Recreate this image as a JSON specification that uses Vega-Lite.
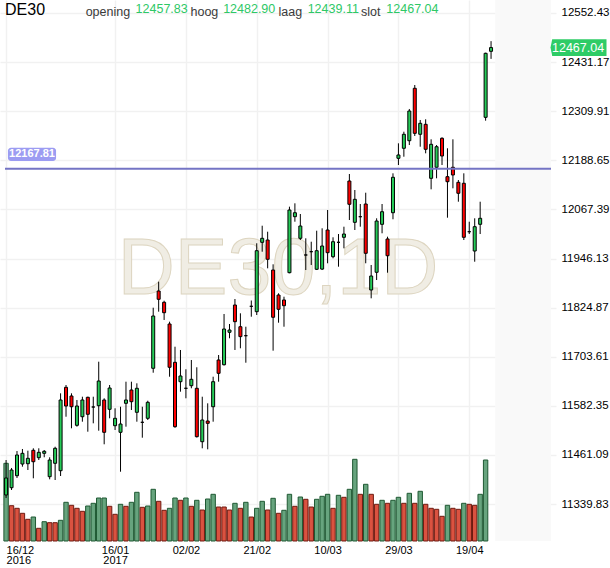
{
  "$schema": "https://vega.github.io/schema/vega-lite/v6.json",
  "width": 556,
  "height": 541,
  "autosize": "none",
  "padding": {"left": 0, "top": 0, "right": 54, "bottom": 27},
  "background": "#ffffff",
  "config": {"view": {"stroke": null}, "font": "Liberation Sans"},
  "data": {"values": [
    {"n":0,"d":"2016-12-16","o":11362.1,"h":11448.5,"l":11354.7,"c":11404.1,"v":7770,"vc":"up"},
    {"n":1,"d":"2016-12-19","o":11380.1,"h":11428.8,"l":11374.5,"c":11423.8,"v":3530,"vc":"down"},
    {"n":2,"d":"2016-12-20","o":11409.7,"h":11470.7,"l":11404.1,"c":11460.9,"v":3270,"vc":"down"},
    {"n":3,"d":"2016-12-21","o":11438.6,"h":11475.7,"l":11432.0,"c":11465.0,"v":2770,"vc":"down"},
    {"n":4,"d":"2016-12-22","o":11439.4,"h":11471.5,"l":11423.8,"c":11452.7,"v":2170,"vc":"down"},
    {"n":5,"d":"2016-12-23","o":11472.5,"h":11477.4,"l":11403.3,"c":11444.3,"v":2400,"vc":"up"},
    {"n":6,"d":"2016-12-27","o":11454.2,"h":11477.4,"l":11448.5,"c":11467.5,"v":1270,"vc":"down"},
    {"n":7,"d":"2016-12-28","o":11465.0,"h":11473.2,"l":11455.2,"c":11470.0,"v":1930,"vc":"up"},
    {"n":8,"d":"2016-12-29","o":11407.3,"h":11455.2,"l":11400.8,"c":11448.5,"v":1830,"vc":"down"},
    {"n":9,"d":"2016-12-30","o":11440.4,"h":11481.3,"l":11399.1,"c":11477.4,"v":1830,"vc":"down"},
    {"n":10,"d":"2017-01-02","o":11422.1,"h":11613.2,"l":11409.0,"c":11596.7,"v":2070,"vc":"up"},
    {"n":11,"d":"2017-01-03","o":11628.0,"h":11633.7,"l":11555.4,"c":11581.8,"v":3870,"vc":"up"},
    {"n":12,"d":"2017-01-04","o":11606.6,"h":11613.2,"l":11526.8,"c":11580.1,"v":3570,"vc":"down"},
    {"n":13,"d":"2017-01-05","o":11534.2,"h":11596.7,"l":11530.8,"c":11581.8,"v":3270,"vc":"down"},
    {"n":14,"d":"2017-01-06","o":11555.4,"h":11604.8,"l":11543.1,"c":11596.7,"v":2970,"vc":"down"},
    {"n":15,"d":"2017-01-09","o":11603.4,"h":11604.8,"l":11518.4,"c":11561.4,"v":3500,"vc":"up"},
    {"n":16,"d":"2017-01-10","o":11579.4,"h":11604.8,"l":11539.1,"c":11579.4,"v":3770,"vc":"up"},
    {"n":17,"d":"2017-01-11","o":11582.6,"h":11691.3,"l":11520.9,"c":11643.6,"v":4300,"vc":"up"},
    {"n":18,"d":"2017-01-12","o":11596.7,"h":11600.9,"l":11487.3,"c":11516.9,"v":4300,"vc":"up"},
    {"n":19,"d":"2017-01-13","o":11573.7,"h":11633.7,"l":11551.5,"c":11626.3,"v":3470,"vc":"down"},
    {"n":20,"d":"2017-01-16","o":11533.2,"h":11576.2,"l":11522.6,"c":11551.5,"v":2670,"vc":"down"},
    {"n":21,"d":"2017-01-17","o":11516.9,"h":11580.1,"l":11419.6,"c":11537.4,"v":3670,"vc":"up"},
    {"n":22,"d":"2017-01-18","o":11588.5,"h":11641.9,"l":11530.8,"c":11596.7,"v":3470,"vc":"down"},
    {"n":23,"d":"2017-01-19","o":11621.4,"h":11641.9,"l":11572.0,"c":11592.5,"v":3870,"vc":"up"},
    {"n":24,"d":"2017-01-20","o":11566.3,"h":11637.9,"l":11543.1,"c":11625.6,"v":4870,"vc":"up"},
    {"n":25,"d":"2017-01-23","o":11541.6,"h":11580.1,"l":11503.6,"c":11541.6,"v":3370,"vc":"down"},
    {"n":26,"d":"2017-01-24","o":11551.5,"h":11594.9,"l":11547.3,"c":11591.0,"v":3500,"vc":"up"},
    {"n":27,"d":"2017-01-25","o":11675.0,"h":11824.6,"l":11664.1,"c":11804.1,"v":5170,"vc":"up"},
    {"n":28,"d":"2017-01-26","o":11865.9,"h":11888.9,"l":11814.8,"c":11845.4,"v":3970,"vc":"down"},
    {"n":29,"d":"2017-01-27","o":11838.0,"h":11841.9,"l":11794.3,"c":11812.3,"v":3070,"vc":"down"},
    {"n":30,"d":"2017-01-30","o":11784.4,"h":11790.1,"l":11654.2,"c":11677.5,"v":3270,"vc":"up"},
    {"n":31,"d":"2017-01-31","o":11689.8,"h":11728.3,"l":11528.0,"c":11530.8,"v":4300,"vc":"up"},
    {"n":32,"d":"2017-02-01","o":11641.9,"h":11720.2,"l":11617.2,"c":11656.0,"v":4070,"vc":"down"},
    {"n":33,"d":"2017-02-02","o":11625.6,"h":11672.5,"l":11600.9,"c":11625.6,"v":4300,"vc":"up"},
    {"n":34,"d":"2017-02-03","o":11632.0,"h":11695.5,"l":11625.6,"c":11647.8,"v":3470,"vc":"down"},
    {"n":35,"d":"2017-02-06","o":11625.6,"h":11677.5,"l":11504.0,"c":11506.1,"v":4070,"vc":"up"},
    {"n":36,"d":"2017-02-07","o":11493.7,"h":11604.8,"l":11477.4,"c":11547.3,"v":3100,"vc":"down"},
    {"n":37,"d":"2017-02-08","o":11544.8,"h":11588.5,"l":11474.9,"c":11539.1,"v":4200,"vc":"up"},
    {"n":38,"d":"2017-02-09","o":11580.1,"h":11654.2,"l":11543.1,"c":11641.9,"v":4670,"vc":"up"},
    {"n":39,"d":"2017-02-10","o":11695.5,"h":11707.8,"l":11641.9,"c":11662.6,"v":3400,"vc":"down"},
    {"n":40,"d":"2017-02-13","o":11683.8,"h":11809.1,"l":11681.9,"c":11772.0,"v":3400,"vc":"down"},
    {"n":41,"d":"2017-02-14","o":11763.9,"h":11784.4,"l":11749.1,"c":11769.5,"v":3100,"vc":"down"},
    {"n":42,"d":"2017-02-15","o":11831.3,"h":11846.1,"l":11720.2,"c":11790.1,"v":3770,"vc":"up"},
    {"n":43,"d":"2017-02-16","o":11777.7,"h":11810.8,"l":11724.4,"c":11753.2,"v":3270,"vc":"down"},
    {"n":44,"d":"2017-02-17","o":11755.5,"h":11777.7,"l":11688.8,"c":11755.5,"v":3870,"vc":"up"},
    {"n":45,"d":"2017-02-20","o":11828.1,"h":11842.4,"l":11802.4,"c":11828.1,"v":2400,"vc":"down"},
    {"n":46,"d":"2017-02-21","o":11814.8,"h":11983.7,"l":11806.6,"c":11965.4,"v":3270,"vc":"up"},
    {"n":47,"d":"2017-02-22","o":11986.1,"h":12027.1,"l":11962.9,"c":11996.0,"v":3970,"vc":"up"},
    {"n":48,"d":"2017-02-23","o":11991.8,"h":12012.3,"l":11921.9,"c":11944.2,"v":3100,"vc":"down"},
    {"n":49,"d":"2017-02-24","o":11917.7,"h":11931.8,"l":11718.5,"c":11801.0,"v":4270,"vc":"up"},
    {"n":50,"d":"2017-02-27","o":11856.0,"h":11860.2,"l":11787.6,"c":11820.7,"v":2770,"vc":"down"},
    {"n":51,"d":"2017-02-28","o":11843.7,"h":11851.8,"l":11777.7,"c":11829.6,"v":3070,"vc":"up"},
    {"n":52,"d":"2017-03-01","o":11911.1,"h":12074.1,"l":11909.6,"c":12065.9,"v":4670,"vc":"up"},
    {"n":53,"d":"2017-03-02","o":12049.4,"h":12082.4,"l":12037.0,"c":12059.2,"v":3470,"vc":"down"},
    {"n":54,"d":"2017-03-03","o":11996.0,"h":12056.0,"l":11991.8,"c":12026.4,"v":4400,"vc":"up"},
    {"n":55,"d":"2017-03-06","o":11954.8,"h":11996.0,"l":11917.7,"c":11954.8,"v":4170,"vc":"down"},
    {"n":56,"d":"2017-03-07","o":11963.0,"h":11987.6,"l":11930.1,"c":11963.0,"v":3400,"vc":"down"},
    {"n":57,"d":"2017-03-08","o":11919.5,"h":12014.8,"l":11917.7,"c":11965.4,"v":4170,"vc":"up"},
    {"n":58,"d":"2017-03-09","o":11920.0,"h":12020.7,"l":11917.7,"c":11977.0,"v":4470,"vc":"up"},
    {"n":59,"d":"2017-03-10","o":12016.5,"h":12065.9,"l":11934.3,"c":11960.5,"v":4670,"vc":"up"},
    {"n":60,"d":"2017-03-13","o":11950.6,"h":11998.5,"l":11946.6,"c":11987.6,"v":3270,"vc":"down"},
    {"n":61,"d":"2017-03-14","o":11986.1,"h":12006.6,"l":11925.9,"c":11986.1,"v":4570,"vc":"up"},
    {"n":62,"d":"2017-03-15","o":11998.5,"h":12024.7,"l":11971.3,"c":12006.6,"v":4370,"vc":"down"},
    {"n":63,"d":"2017-03-16","o":12137.5,"h":12154.8,"l":12041.2,"c":12080.0,"v":5170,"vc":"up"},
    {"n":64,"d":"2017-03-17","o":12035.5,"h":12115.3,"l":12016.5,"c":12092.3,"v":8170,"vc":"up"},
    {"n":65,"d":"2017-03-20","o":12049.4,"h":12080.7,"l":12024.7,"c":12049.4,"v":4670,"vc":"down"},
    {"n":66,"d":"2017-03-21","o":12080.7,"h":12108.6,"l":11934.3,"c":11959.0,"v":5670,"vc":"up"},
    {"n":67,"d":"2017-03-22","o":11868.4,"h":11930.1,"l":11847.8,"c":11902.9,"v":4670,"vc":"down"},
    {"n":68,"d":"2017-03-23","o":11912.1,"h":12045.4,"l":11893.0,"c":12038.7,"v":3670,"vc":"down"},
    {"n":69,"d":"2017-03-24","o":12030.6,"h":12080.7,"l":12008.4,"c":12061.7,"v":4070,"vc":"up"},
    {"n":70,"d":"2017-03-27","o":11994.3,"h":12000.0,"l":11911.1,"c":11953.0,"v":3770,"vc":"down"},
    {"n":71,"d":"2017-03-28","o":12059.2,"h":12156.5,"l":12043.0,"c":12146.7,"v":4070,"vc":"up"},
    {"n":72,"d":"2017-03-29","o":12193.6,"h":12230.6,"l":12177.0,"c":12201.8,"v":4370,"vc":"up"},
    {"n":73,"d":"2017-03-30","o":12218.3,"h":12259.3,"l":12197.5,"c":12252.9,"v":3770,"vc":"down"},
    {"n":74,"d":"2017-03-31","o":12237.0,"h":12315.4,"l":12226.4,"c":12310.4,"v":4770,"vc":"up"},
    {"n":75,"d":"2017-04-03","o":12366.5,"h":12374.6,"l":12248.7,"c":12255.3,"v":3770,"vc":"down"},
    {"n":76,"d":"2017-04-04","o":12252.9,"h":12288.2,"l":12222.2,"c":12280.0,"v":4970,"vc":"up"},
    {"n":77,"d":"2017-04-05","o":12277.5,"h":12289.9,"l":12205.9,"c":12215.8,"v":3670,"vc":"down"},
    {"n":78,"d":"2017-04-06","o":12144.2,"h":12240.5,"l":12117.0,"c":12228.2,"v":3270,"vc":"down"},
    {"n":79,"d":"2017-04-07","o":12171.4,"h":12226.4,"l":12144.2,"c":12222.2,"v":3170,"vc":"down"},
    {"n":80,"d":"2017-04-10","o":12243.0,"h":12245.5,"l":12177.0,"c":12199.3,"v":2470,"vc":"down"},
    {"n":81,"d":"2017-04-11","o":12148.2,"h":12218.3,"l":12046.9,"c":12135.8,"v":3570,"vc":"up"},
    {"n":82,"d":"2017-04-12","o":12171.4,"h":12240.5,"l":12119.5,"c":12152.4,"v":3270,"vc":"down"},
    {"n":83,"d":"2017-04-13","o":12134.3,"h":12140.0,"l":12086.4,"c":12107.2,"v":3170,"vc":"down"},
    {"n":84,"d":"2017-04-18","o":12131.9,"h":12156.5,"l":11991.8,"c":11998.5,"v":3770,"vc":"up"},
    {"n":85,"d":"2017-04-19","o":12012.3,"h":12037.0,"l":12006.6,"c":12012.3,"v":3670,"vc":"down"},
    {"n":86,"d":"2017-04-20","o":11964.6,"h":12045.4,"l":11938.2,"c":12024.7,"v":3570,"vc":"down"},
    {"n":87,"d":"2017-04-21","o":12030.6,"h":12086.4,"l":12006.6,"c":12045.4,"v":4670,"vc":"up"},
    {"n":88,"d":"2017-04-24","o":12294.8,"h":12454.4,"l":12286.5,"c":12452.9,"v":8100,"vc":"up"},
    {"n":89,"d":"2017-04-25","o":12457.83,"h":12482.90,"l":12439.11,"c":12467.04,"v":null,"vc":"up"}
  ]},
  "encoding": {
    "x": {
      "field": "n",
      "type": "quantitative",
      "title": null,
      "scale": {"domain": [-0.2, 100], "nice": false, "zero": false},
      "axis": {
        "values": [0, 20, 33, 46, 59, 72, 85],
        "labelExpr": "datum.value == 0 ? ['16/12', '2016'] : datum.value == 20 ? ['16/01', '2017'] : datum.value == 33 ? '02/02' : datum.value == 46 ? '21/02' : datum.value == 59 ? '10/03' : datum.value == 72 ? '29/03' : '19/04'",
        "labelAlign": {"condition": {"test": "datum.value == 0", "value": "left"}, "value": "center"},
        "labelFlush": false,
        "ticks": false,
        "domain": false,
        "grid": true,
        "gridColor": "#f1f1f1",
        "gridWidth": 1.5,
        "labelOverlap": false,
        "labelBound": false,
        "labelFontSize": 11,
        "labelColor": "#000000",
        "labelPadding": 3,
        "labelLineHeight": 10.5,
        "labelBaseline": "top"
      }
    }
  },
  "layer": [
    {
      "mark": {"type": "bar", "size": 4.4, "strokeWidth": 1},
      "encoding": {
        "y": {"field": "v", "type": "quantitative", "title": null, "scale": {"domain": [0, 54100], "nice": false}, "axis": null},
        "fill": {"field": "vc", "type": "nominal", "scale": {"domain": ["up", "down"], "range": ["#67a47e", "#da5240"]}, "legend": null},
        "stroke": {"field": "vc", "type": "nominal", "scale": {"domain": ["up", "down"], "range": ["#1f5933", "#6e1a10"]}, "legend": null}
      }
    },
    {
      "layer": [
        {
          "transform": [{"filter": "datum.n == 89"}],
          "mark": {"type": "rect", "fill": "#f9f9f9"},
          "encoding": {"x": {"datum": 89.75}, "x2": {"datum": 100}}
        },
        {
          "transform": [{"filter": "datum.n == 89"}],
          "mark": {"type": "text", "text": "DE30,1D", "font": "Liberation Sans", "fontSize": 79, "align": "center", "baseline": "alphabetic", "fill": "#f0ede4", "stroke": "#ddd5c0", "strokeWidth": 1},
          "encoding": {"x": {"datum": 49.9}, "y": {"datum": 11858.5}}
        },
        {
          "mark": {"type": "rule", "color": "#000000", "strokeWidth": 1},
          "encoding": {
            "y": {
              "field": "l",
              "type": "quantitative",
              "title": null,
              "scale": {"domain": [11248.48, 12584.53], "nice": false, "zero": false},
              "axis": {
                "orient": "right",
                "values": [11339.83, 11461.09, 11582.35, 11703.61, 11824.87, 11946.13, 12067.39, 12188.65, 12309.91, 12431.17, 12552.43],
                "format": ".2f",
                "ticks": false,
                "domain": false,
                "grid": true,
                "gridColor": "#f1f1f1",
                "gridWidth": 1.5,
                "labelFontSize": 11.5,
                "labelColor": "#000000",
                "labelPadding": 5,
                "labelOverlap": false
              }
            },
            "y2": {"field": "h"}
          }
        },
        {
          "mark": {"type": "bar", "size": 3, "stroke": "#000000", "strokeWidth": 1},
          "encoding": {
            "y": {"field": "o", "type": "quantitative", "title": null},
            "y2": {"field": "c"},
            "fill": {"condition": {"test": "datum.c >= datum.o", "value": "#25cc58"}, "value": "#ff0000"}
          }
        },
        {
          "transform": [{"filter": "datum.n == 89"}],
          "mark": {"type": "rule", "color": "#7474c4", "strokeWidth": 2},
          "encoding": {"x": {"datum": -0.2}, "x2": {"datum": 100}, "y": {"datum": 12167.81}}
        },
        {
          "transform": [{"filter": "datum.n == 89"}],
          "mark": {"type": "rect", "fill": "#9c9cf2", "cornerRadius": 3},
          "encoding": {"x": {"datum": 0.34}, "x2": {"datum": 9.17}, "y": {"datum": 12219.8}, "y2": {"datum": 12186.9}}
        },
        {
          "transform": [{"filter": "datum.n == 89"}],
          "mark": {"type": "text", "text": "12167.81", "fontSize": 11, "fontWeight": "bold", "align": "center", "baseline": "middle", "color": "#ffffff"},
          "encoding": {"x": {"datum": 4.76}, "y": {"datum": 12203.0}}
        },
        {
          "transform": [{"filter": "datum.n == 89"}],
          "mark": {"type": "text", "text": "DE30", "fontSize": 16, "align": "left", "baseline": "alphabetic", "color": "#000000"},
          "encoding": {"x": {"datum": -0.2}, "y": {"datum": 12547.5}}
        },
        {
          "transform": [{"filter": "datum.n == 89"}],
          "mark": {"type": "text", "text": "opening", "fontSize": 12.5, "align": "left", "baseline": "alphabetic", "color": "#3a3a3a"},
          "encoding": {"x": {"datum": 14.6}, "y": {"datum": 12546.0}}
        },
        {
          "transform": [{"filter": "datum.n == 89"}],
          "mark": {"type": "text", "fontSize": 12.5, "align": "left", "baseline": "alphabetic", "color": "#2ec866"},
          "encoding": {"x": {"datum": 23.77}, "y": {"datum": 12551.5}, "text": {"field": "o", "type": "quantitative", "format": ".2f"}}
        },
        {
          "transform": [{"filter": "datum.n == 89"}],
          "mark": {"type": "text", "text": "hoog", "fontSize": 12.5, "align": "left", "baseline": "alphabetic", "color": "#3a3a3a"},
          "encoding": {"x": {"datum": 33.84}, "y": {"datum": 12546.0}}
        },
        {
          "transform": [{"filter": "datum.n == 89"}],
          "mark": {"type": "text", "fontSize": 12.5, "align": "left", "baseline": "alphabetic", "color": "#2ec866"},
          "encoding": {"x": {"datum": 39.83}, "y": {"datum": 12551.5}, "text": {"field": "h", "type": "quantitative", "format": ".2f"}}
        },
        {
          "transform": [{"filter": "datum.n == 89"}],
          "mark": {"type": "text", "text": "laag", "fontSize": 12.5, "align": "left", "baseline": "alphabetic", "color": "#3a3a3a"},
          "encoding": {"x": {"datum": 49.99}, "y": {"datum": 12546.0}}
        },
        {
          "transform": [{"filter": "datum.n == 89"}],
          "mark": {"type": "text", "fontSize": 12.5, "align": "left", "baseline": "alphabetic", "color": "#2ec866"},
          "encoding": {"x": {"datum": 55.34}, "y": {"datum": 12551.5}, "text": {"field": "l", "type": "quantitative", "format": ".2f"}}
        },
        {
          "transform": [{"filter": "datum.n == 89"}],
          "mark": {"type": "text", "text": "slot", "fontSize": 12.5, "align": "left", "baseline": "alphabetic", "color": "#3a3a3a"},
          "encoding": {"x": {"datum": 65.13}, "y": {"datum": 12546.0}}
        },
        {
          "transform": [{"filter": "datum.n == 89"}],
          "mark": {"type": "text", "fontSize": 12.5, "align": "left", "baseline": "alphabetic", "color": "#2ec866"},
          "encoding": {"x": {"datum": 69.78}, "y": {"datum": 12551.5}, "text": {"field": "c", "type": "quantitative", "format": ".2f"}}
        },
        {
          "transform": [{"filter": "datum.n == 89"}],
          "mark": {"type": "point", "filled": true, "opacity": 1, "size": 3136, "shape": "M -1 0 L -0.94 -0.3 L 1 -0.3 L 1 0.3 L -0.94 0.3 Z", "color": "#2ecc66", "strokeWidth": 0},
          "encoding": {"x": {"datum": 105.05}, "y": {"field": "c", "type": "quantitative", "title": null}}
        },
        {
          "transform": [{"filter": "datum.n == 89"}],
          "mark": {"type": "text", "fontSize": 12.5, "align": "left", "baseline": "middle", "color": "#ffffff"},
          "encoding": {"x": {"datum": 100.18}, "y": {"field": "c", "type": "quantitative", "title": null}, "text": {"field": "c", "type": "quantitative", "format": ".2f"}}
        }
      ]
    }
  ],
  "resolve": {"scale": {"y": "independent"}}
}
